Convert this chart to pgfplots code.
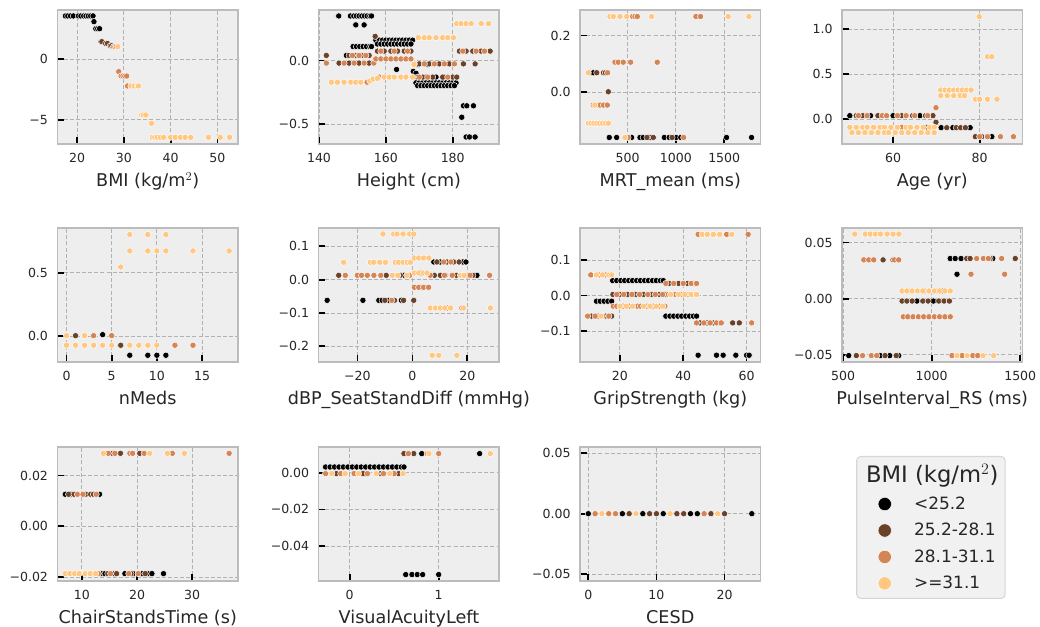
\documentclass[border=0pt]{standalone}
\usepackage{pgfplots}
\pgfplotsset{compat=1.18}
\usepackage{fontspec}
\setmainfont{DejaVu Sans}

\definecolor{bgc}{HTML}{EEEEEE}
\definecolor{edgec}{HTML}{BCBCBC}
\definecolor{gridc}{HTML}{B2B2B2}
\definecolor{tickc}{HTML}{262626}
\definecolor{legfill}{HTML}{F1F1F1}
\definecolor{legedge}{HTML}{D6D6D6}
% copper palette, four BMI classes
\definecolor{c0}{HTML}{000000}
\definecolor{c1}{HTML}{6A422A}
\definecolor{c2}{HTML}{D48555}
\definecolor{c3}{HTML}{FFC77F}

\pgfplotsset{
  panel/.style={
    scale only axis, width=135.4pt, height=100.5pt, anchor=north west,
    axis background/.style={fill=bgc},
    axis line style={draw=edgec, line width=1.1pt},
    grid=major,
    major grid style={draw=gridc, line width=0.7pt, dash pattern=on 3pt off 1.6pt},
    tick align=inside, xtick pos=bottom, ytick pos=left,
    major tick length=5pt,
    every tick/.style={black, line width=1.3pt},
    scaled x ticks=false, scaled y ticks=false,
    tick label style={font=\fontsize{9.4}{11}\selectfont, text=tickc},
    xticklabel style={anchor=base, yshift=-14pt},
    yticklabel style={anchor=east, xshift=-3.6pt},
    every axis x label/.style={at={(axis description cs:0.5,0)}, anchor=base, yshift=-32pt,
      font=\fontsize{13.2}{15}\selectfont, text=tickc},
    /pgf/number format/assume math mode=true,
  },
  dot/.style={only marks, mark=*, mark size=2.35pt,
    mark options={draw=white, line width=0.35pt, fill=#1}},
}

\begin{document}
\begin{tikzpicture}
\path[use as bounding box] (0,0) rectangle (780pt,470.25pt);

% ---------------- BMI ----------------
\begin{axis}[panel, at={(43.1pt,462.75pt)},
  xmin=15.8, xmax=54.4, ymin=-6.98, ymax=4.06,
  xtick={20,30,40,50}, xticklabels={20,30,40,50},
  ytick={-5,0}, yticklabels={−5,0},
  xlabel={BMI (kg/m$^{2}$)}]
\addplot[dot=c0] coordinates {(17.5,3.57) (18.0,3.57) (18.6,3.57) (19.2,3.57) (20.3,3.57) (20.8,3.57) (21.4,3.57) (21.9,3.57) (22.4,3.57) (22.9,3.57) (23.4,3.57) (23.6,3.1) (24.0,2.52) (24.4,2.52) (24.8,2.52)};
\addplot[dot=c1] coordinates {(25.1,1.45) (25.3,1.45) (26.1,1.30) (26.5,1.30) (27.1,1.12) (27.4,1.12)};
\addplot[dot=c2] coordinates {(27.8,1.04) (28.1,1.04) (28.4,1.04) (28.9,-1.02) (29.4,-1.38) (29.8,-1.38) (30.2,-1.38) (30.6,-1.38) (30.8,-2.2)};
\addplot[dot=c3] coordinates {(28.7,1.04) (31.5,-2.2) (32.2,-2.2) (32.9,-2.2) (33.1,-2.2) (33.8,-4.59) (34.2,-4.59) (34.7,-4.59) (35.9,-5.28) (36.1,-6.43) (36.6,-6.43) (37.1,-6.43) (37.8,-6.43) (38.5,-6.43) (40.0,-6.43) (41.0,-6.43) (42.1,-6.43) (43.1,-6.43) (44.3,-6.43) (48.1,-6.43) (50.6,-6.43) (52.6,-6.43)};
\end{axis}

% ---------------- Height ----------------
\begin{axis}[panel, at={(239.0pt,462.75pt)},
  xmin=139.9, xmax=193.9, ymin=-0.655, ymax=0.397,
  xtick={140,160,180}, xticklabels={140,160,180},
  ytick={-0.5,0}, yticklabels={−0.5,0.0},
  xlabel={Height (cm)}]
\addplot[dot=c0] coordinates {(145.9,0.35) (149.4,0.35) (150.4,0.35) (151.2,0.35) (152.0,0.35) (152.8,0.35) (153.6,0.35) (154.4,0.35) (155.2,0.35) (155.7,0.35)
 (151.0,0.28) (153.5,0.28)
 (150.2,0.11) (151.2,0.11) (152.2,0.11) (153.2,0.11) (154.2,0.11) (155.2,0.11) (155.7,0.11) (148.2,0.04)
 (157.0,0.16) (158.0,0.16) (159.0,0.16) (160.0,0.16) (161.0,0.16) (162.0,0.16) (163.0,0.16) (164.0,0.16) (165.0,0.16) (166.0,0.16) (167.0,0.16) (168.0,0.16)
 (157.5,0.13) (158.5,0.13) (159.5,0.13) (160.5,0.13) (161.5,0.13) (162.5,0.13) (163.5,0.13) (164.5,0.13) (165.5,0.13) (166.5,0.13) (167.5,0.13)
 (163.2,-0.07) (168.2,-0.085) (169.0,-0.1) (169.5,-0.03) (172.5,-0.03)
 (169.5,-0.13) (172.0,-0.13) (175.0,-0.13) (177.5,-0.13)
 (169,-0.175) (170,-0.175) (171,-0.175) (172,-0.175) (173,-0.175) (174,-0.175) (175,-0.175) (176,-0.175) (177,-0.175) (178,-0.175) (179,-0.175) (180,-0.175) (181,-0.175)
 (169.5,-0.197) (170.5,-0.197) (171.5,-0.197) (172.5,-0.197) (173.5,-0.197) (174.5,-0.197) (175.5,-0.197) (176.5,-0.197) (177.5,-0.197) (178.5,-0.197) (179.5,-0.197) (180.5,-0.197)
 (183.2,-0.355) (184.2,-0.355) (186.2,-0.355) (182.7,-0.445) (184.0,-0.60) (185.0,-0.60) (186.7,-0.60)};
\addplot[dot=c1] coordinates {(142.2,0.04) (149,0.04) (151,0.04) (153,0.04) (155,0.04) (156.8,0.19)
 (146,-0.02) (149,-0.02) (152,-0.02) (155,-0.02)
 (157.5,0.074) (159.5,0.074) (161.5,0.074) (163.5,0.074) (165.5,0.074) (167.5,0.074)
 (170,-0.026) (173,-0.026) (176,-0.026) (179,-0.026) (183.2,-0.026) (186.7,-0.026)
 (171,-0.13) (174,-0.13) (177,-0.13) (180,-0.13) (181.2,-0.13)
 (182,0.074) (184,0.074) (186,0.074) (188.5,0.074) (191.2,0.074)};
\addplot[dot=c2] coordinates {(142.2,-0.02) (147.5,-0.02) (150.5,-0.02) (153.5,-0.02) (156.4,-0.02)
 (150,0.04) (152,0.04) (154,0.04)
 (157,0.013) (158.5,0.013) (160,0.013) (161.5,0.013) (163,0.013) (164.5,0.013) (166,0.013) (167.5,0.013)
 (158.5,0.074) (162.5,0.074) (166.5,0.074)
 (168.5,-0.026) (171.5,-0.026) (174.5,-0.026) (177.5,-0.026) (180.5,-0.026)
 (170,-0.13) (172.5,-0.13) (178.5,-0.13) (154.4,-0.17) (158,-0.13) (161,-0.13)
 (183,0.074) (187,0.074) (189.5,0.074)};
\addplot[dot=c3] coordinates {(181.2,0.29) (182.5,0.29) (184,0.29) (185.5,0.29) (188.5,0.29) (190.7,0.29)
 (169.7,0.18) (171.5,0.18) (173,0.18) (175,0.18) (177,0.18) (178.5,0.18) (180.2,0.18)
 (143.7,-0.17) (145.5,-0.17) (147.5,-0.17) (149.5,-0.17) (151,-0.17) (152.5,-0.17) (155.2,-0.16)
 (156.2,-0.145) (157.5,-0.14) (159.5,-0.13) (161,-0.13) (162.5,-0.13) (164.5,-0.13) (166,-0.13) (168,-0.13) (168.4,-0.03)};
\end{axis}

% ---------------- MRT_mean ----------------
\begin{axis}[panel, at={(435pt,462.75pt)},
  xmin=7, xmax=1876, ymin=-0.182, ymax=0.29,
  xtick={500,1000,1500}, xticklabels={500,1000,1500},
  ytick={0,0.2}, yticklabels={0.0,0.2},
  xlabel={MRT\_mean (ms)}]
\addplot[dot=c0] coordinates {(110,0.069) (145,0.069) (310,-0.159) (386,-0.159) (541,-0.159) (628,-0.159) (662,-0.159) (730,-0.159) (880,-0.159) (930,-0.159) (1000,-0.159) (1050,-0.159) (1524,-0.159) (1783,-0.159)};
\addplot[dot=c1] coordinates {(180,0.069) (250,0.069) (270,0.069) (300,0.002) (700,-0.159) (766,-0.159) (960,-0.159)};
\addplot[dot=c2] coordinates {(292,0.069) (369,0.106) (403,0.106) (455,0.106) (531,0.106) (807,0.106) (145,-0.045) (180,-0.045) (215,-0.045) (250,-0.045) (290,-0.045) (552,0.267) (576,0.267) (600,0.267) (1207,0.267) (1255,0.267) (505,-0.159) (1080,-0.159)};
\addplot[dot=c3] coordinates {(317,0.267) (352,0.267) (421,0.267) (490,0.267) (748,0.267) (1541,0.267) (1755,0.267) (93,0.069) (160,-0.045) (93,-0.109) (120,-0.109) (150,-0.109) (180,-0.109) (210,-0.109) (240,-0.109) (270,-0.109) (300,-0.109) (472,-0.159)};
\end{axis}

% ---------------- Age ----------------
\begin{axis}[panel, at={(631.5pt,462.75pt)},
  xmin=48.2, xmax=89.9, ymin=-0.279, ymax=1.216,
  xtick={60,80}, xticklabels={60,80},
  ytick={0,0.5,1}, yticklabels={0.0,0.5,1.0},
  xlabel={Age (yr)}]
\addplot[dot=c0] coordinates {(50,0.037) (54.8,0.037) (60,0.037) (66.2,0.037) (71.1,-0.097) (73.8,-0.097) (77.8,-0.097) (82.8,-0.197)};
\addplot[dot=c1] coordinates {(51.5,0.037) (53,0.037) (56.5,0.037) (62,0.037) (64.5,0.037) (67.5,0.037) (69.2,0.037) (69.9,-0.037) (72.4,-0.097) (74.6,-0.097) (75.6,-0.097) (76.7,-0.097) (79,-0.197) (80.5,-0.197) (67.8,-0.093)};
\addplot[dot=c2] coordinates {(52,0.037) (54,0.037) (57.5,0.037) (58.5,0.037) (61,0.037) (63,0.037) (65,0.037) (68,0.037) (69.9,0.126) (80,-0.197) (81.8,-0.197) (84.8,-0.197) (87.8,-0.197) (62,-0.093)};
\addplot[dot=c3] coordinates {(50,-0.093) (51.5,-0.093) (53,-0.093) (54,-0.093) (55.5,-0.093) (57,-0.093) (58,-0.093) (59.5,-0.093) (61,-0.093) (63,-0.093) (64,-0.093) (65.5,-0.093) (67,-0.093) (68.5,-0.093) (69.5,-0.093)
 (50.5,-0.152) (52,-0.152) (53.5,-0.152) (55,-0.152) (56.5,-0.152) (58,-0.152) (59,-0.152) (60.5,-0.152) (62,-0.152) (63.5,-0.152) (65,-0.152) (66.5,-0.152) (68,-0.152) (69.5,-0.152)
 (71,0.323) (72,0.323) (73,0.323) (74,0.323) (75,0.323) (76,0.323) (77,0.323) (78,0.323)
 (71,0.26) (72.5,0.26) (74,0.26) (75.5,0.26) (76.5,0.26)
 (79,0.22) (80,0.22) (81.8,0.22) (84,0.22) (81.8,0.695) (82.8,0.695) (79.9,1.141)};
\end{axis}

% ---------------- nMeds ----------------
\begin{axis}[panel, at={(43.1pt,299.25pt)},
  xmin=-1.0, xmax=18.98, ymin=-0.203, ymax=0.855,
  xtick={0,5,10,15}, xticklabels={0,5,10,15},
  ytick={0,0.5}, yticklabels={0.0,0.5},
  xlabel={nMeds}]
\addplot[dot=c0] coordinates {(4,0.013) (7,-0.15) (9,-0.15) (10,-0.15) (11,-0.15)};
\addplot[dot=c1] coordinates {(1,0.005) (6,-0.071)};
\addplot[dot=c2] coordinates {(3,0.005) (5,0.005) (12,-0.071) (14,-0.071)};
\addplot[dot=c3] coordinates {(0,0.005) (2,0.005) (0,-0.071) (1,-0.071) (2,-0.071) (3,-0.071) (4,-0.071) (5,-0.071) (7,-0.071) (8,-0.071) (9,-0.071) (10,-0.071) (7,0.803) (9,0.803) (11,0.803) (7,0.674) (9,0.674) (10,0.674) (11,0.674) (14,0.674) (18,0.674) (6,0.547)};
\end{axis}

% ---------------- dBP_SeatStandDiff ----------------
\begin{axis}[panel, at={(239.0pt,299.25pt)},
  xmin=-34.1, xmax=31.6, ymin=-0.247, ymax=0.155,
  xtick={-20,0,20}, xticklabels={−20,0,20},
  ytick={-0.2,-0.1,0,0.1}, yticklabels={−0.2,−0.1,0.0,0.1},
  xlabel={dBP\_SeatStandDiff (mmHg)}]
\addplot[dot=c0] coordinates {(-31,-0.062) (-18,-0.062) (-12.2,-0.062) (-11,-0.062) (-8.5,-0.062) (-4,-0.062) (7.8,0.053) (10.2,0.053) (18.4,0.053) (19.5,0.053) (-3,0.013) (3,0.02) (23.5,0.013)};
\addplot[dot=c1] coordinates {(-26.8,0.013) (-9.5,0.013) (-4.4,0.013) (8,0.013) (10.2,0.013) (12,0.013) (16,0.013) (22,0.013) (8.9,0.053) (12.6,0.053) (15,0.053) (17,0.053) (-10,-0.062) (-6.5,-0.062) (-3.2,-0.062) (0.5,-0.062) (3.5,-0.023)};
\addplot[dot=c2] coordinates {(-24.4,0.013) (-20,0.013) (-18.5,0.013) (-16.4,0.013) (-14,0.013) (-11.5,0.013) (-1,0.013) (6.5,0.013) (11.7,0.013) (14.5,0.013) (19.5,0.013) (21,0.013) (28.1,0.013) (11.4,0.053) (14,0.053) (0.7,-0.023) (2.3,-0.023) (4.1,-0.023) (5.9,-0.023) (-7.5,-0.062) (12.7,-0.085) (18,-0.085)};
\addplot[dot=c3] coordinates {(-10.7,0.137) (-6.8,0.137) (-5.6,0.137) (-3.4,0.137) (-1,0.137) (0.5,0.137) (-25,0.052) (-15.3,0.052) (-14.1,0.052) (-11.9,0.052) (-9.8,0.052) (-6.2,0.052) (-5,0.052) (-3.4,0.052) (-1.9,0.052) (-0.7,0.052) (0.7,0.065) (2.3,0.065) (4.1,0.065) (6,0.065) (-7.3,0.013) (-5.3,0.013) (-2,0.013) (0.7,0.02) (2.3,0.02) (4.1,0.02) (5.3,0.02) (17.5,0.013) (18.8,0.013) (6.5,-0.085) (8.4,-0.085) (10.2,-0.085) (11.8,-0.085) (13.9,-0.085) (18.6,-0.085) (28.4,-0.085) (7.2,-0.227) (9.6,-0.227) (16.2,-0.227)};
\end{axis}

% ---------------- GripStrength ----------------
\begin{axis}[panel, at={(435pt,299.25pt)},
  xmin=7.4, xmax=64.4, ymin=-0.187, ymax=0.19,
  xtick={20,40,60}, xticklabels={20,40,60},
  ytick={-0.1,0,0.1}, yticklabels={−0.1,0.0,0.1},
  xlabel={GripStrength (kg)}]
\addplot[dot=c0] coordinates {(17.7,0.042) (19,0.042) (20.3,0.042) (21.5,0.042) (22.8,0.042) (24,0.042) (25.3,0.042) (26.5,0.042) (27.8,0.042) (29,0.042) (30.3,0.042) (31.5,0.042) (32.8,0.042) (33.7,0.042)
 (12.6,-0.016) (13.8,-0.016) (15,-0.016) (16.2,-0.016) (17.4,-0.016)
 (34.5,-0.058) (35.8,-0.058) (37,-0.058) (38.3,-0.058) (39.5,-0.058) (40.8,-0.058) (42,-0.058) (43.2,-0.058) (44.2,-0.058)
 (44.7,-0.168) (50.5,-0.168) (52.6,-0.168) (56.6,-0.168) (60,-0.168) (60.8,-0.168)};
\addplot[dot=c1] coordinates {(35.5,0.034) (38.5,0.034) (41.3,0.034) (43.3,0.034)
 (17.8,0.003) (20,0.003) (22.5,0.003) (25,0.003) (27.5,0.003) (30,0.003) (32.5,0.003) (34.5,0.003)
 (11,-0.058) (13.2,-0.058) (15.5,-0.058) (17.4,-0.058)
 (45.3,-0.077) (47.5,-0.077) (49.5,-0.077) (51.5,-0.077) (55.6,-0.077) (57.7,-0.077)};
\addplot[dot=c2] coordinates {(44.7,0.172) (53.7,0.172) (60.5,0.172) (10.8,0.058) (13.5,0.058) (15.5,0.058)
 (34.5,0.034) (37,0.034) (40,0.034) (42.5,0.034) (44.2,0.034)
 (19,0.003) (21.2,0.003) (23.8,0.003) (26.2,0.003) (28.8,0.003) (31.2,0.003) (33.5,0.003)
 (35.3,0.003) (37.5,0.003) (39.5,0.003) (41.5,0.003) (43.5,0.003)
 (17.9,-0.03) (19,-0.03) (21,-0.03) (23,-0.03) (25.5,-0.03) (26.5,-0.03) (28.5,-0.03) (30.5,-0.03) (32.5,-0.03) (34.2,-0.03)
 (9.8,-0.058) (12.2,-0.058) (14.5,-0.058) (16.5,-0.058)
 (44.2,-0.077) (46.5,-0.077) (48.5,-0.077) (50.5,-0.077) (52,-0.077) (61.6,-0.077)};
\addplot[dot=c3] coordinates {(46,0.172) (47.6,0.172) (49.5,0.172) (51.5,0.172) (55.3,0.172)
 (12.6,0.058) (14.5,0.058) (16.5,0.058) (17.4,0.058)
 (36,0.003) (38.5,0.003) (40.5,0.003) (42.5,0.003) (44.2,0.003)
 (20,-0.03) (22,-0.03) (24,-0.03) (27.5,-0.03) (29.5,-0.03) (31.5,-0.03) (33.5,-0.03) (14,-0.058)};
\end{axis}

% ---------------- PulseInterval_RS ----------------
\begin{axis}[panel, at={(631.5pt,299.25pt)},
  xmin=494, xmax=1513, ymin=-0.0564, ymax=0.063,
  xtick={500,1000,1500}, xticklabels={500,1000,1500},
  ytick={-0.05,0,0.05}, yticklabels={−0.05,0.00,0.05},
  xlabel={PulseInterval\_RS (ms)}]
\addplot[dot=c0] coordinates {(1105,0.0358) (1133,0.0358) (1166,0.0358) (1345,0.0358) (1143,0.0218) (917,-0.0021) (1010,-0.0021) (532,-0.0507) (710,-0.0507) (763,-0.0507) (814,-0.0507)};
\addplot[dot=c1] coordinates {(726,0.0346) (782,0.0346) (1198,0.0358) (1217,0.0358) (1330,0.0358) (1472,0.0358) (1060,0.0069)
 (833,-0.0021) (860,-0.0021) (890,-0.0021) (950,-0.0021) (980,-0.0021) (1040,-0.0021) (1070,-0.0021) (1100,-0.0021)
 (870,-0.0161) (575,-0.0507) (737,-0.0507) (800,-0.0507) (1240,-0.0507)};
\addplot[dot=c2] coordinates {(617,0.0346) (645,0.0346) (673,0.0346) (790,0.0346) (814,0.0346) (1254,0.0358) (1292,0.0358) (1320,0.0358) (1395,0.0358) (1222,0.0218) (1412,0.0218)
 (870,0.0069) (960,0.0069) (1030,0.0069)
 (840,-0.0161) (865,-0.0161) (895,-0.0161) (925,-0.0161) (955,-0.0161) (985,-0.0161) (1015,-0.0161) (1045,-0.0161) (1075,-0.0161) (1105,-0.0161)
 (610,-0.0507) (660,-0.0507) (690,-0.0507) (1115,-0.0507) (1172,-0.0507) (1232,-0.0507) (1260,-0.0507)};
\addplot[dot=c3] coordinates {(566,0.0576) (626,0.0576) (654,0.0576) (683,0.0576) (711,0.0576) (749,0.0576) (783,0.0576) (815,0.0576)
 (833,0.0069) (860,0.0069) (890,0.0069) (920,0.0069) (950,0.0069) (985,0.0069) (1015,0.0069) (1045,0.0069) (1075,0.0069) (1105,0.0069)
 (1143,-0.0507) (1200,-0.0507) (1290,-0.0507) (1350,-0.0507)};
\end{axis}

% ---------------- ChairStandsTime ----------------
\begin{axis}[panel, at={(43.1pt,135pt)},
  xmin=5.58, xmax=38.3, ymin=-0.0215, ymax=0.0312,
  xtick={10,20,30}, xticklabels={10,20,30},
  ytick={-0.02,0,0.02}, yticklabels={−0.02,0.00,0.02},
  xlabel={ChairStandsTime (s)}]
\addplot[dot=c0] coordinates {(7,0.0126) (8,0.0126) (13.2,0.0126) (13.6,-0.0186) (14.2,-0.0186) (15.9,-0.0186) (17.8,-0.0186) (19.3,-0.0186) (20.9,-0.0186) (22,-0.0186) (22.7,-0.0186) (24.8,-0.0186)};
\addplot[dot=c1] coordinates {(15.5,0.0287) (17,0.0287) (20.5,0.0287) (7.6,0.0126) (8.6,0.0126) (10.7,0.0126) (11.6,0.0126) (12.1,0.0126) (14.7,-0.0186) (16.3,-0.0186) (18.9,-0.0186) (21.5,-0.0186)};
\addplot[dot=c2] coordinates {(14.8,0.0287) (16,0.0287) (18.7,0.0287) (19.2,0.0287) (21.3,0.0287) (26.4,0.0287) (36.7,0.0287) (9.2,0.0126) (10.2,0.0126) (12.6,0.0126) (11.9,-0.0186) (13,-0.0186) (15.2,-0.0186) (18.5,-0.0186) (20.2,-0.0186)};
\addplot[dot=c3] coordinates {(13.9,0.0287) (22.3,0.0287) (25.5,0.0287) (28.6,0.0287) (7,-0.0186) (7.8,-0.0186) (8.7,-0.0186) (9.5,-0.0186) (10.6,-0.0186) (11.5,-0.0186) (12.5,-0.0186)};
\end{axis}

% ---------------- VisualAcuityLeft ----------------
\begin{axis}[panel, at={(239.0pt,135pt)},
  xmin=-0.348, xmax=1.68, ymin=-0.059, ymax=0.014,
  xtick={0,1}, xticklabels={0,1},
  ytick={-0.04,-0.02,0}, yticklabels={−0.04,−0.02,0.00},
  xlabel={VisualAcuityLeft}]
\addplot[dot=c0] coordinates {(-0.27,0.0031) (-0.22,0.0031) (-0.17,0.0031) (-0.12,0.0031) (-0.07,0.0031) (-0.02,0.0031) (0.03,0.0031) (0.08,0.0031) (0.13,0.0031) (0.18,0.0031) (0.23,0.0031) (0.28,0.0031) (0.33,0.0031) (0.38,0.0031) (0.43,0.0031) (0.48,0.0031) (0.53,0.0031) (0.58,0.0031) (0.61,0.0031)
 (0.18,-0.0005) (0.81,0.0104) (1.46,0.0104) (0.63,-0.0555) (0.7,-0.0555) (0.76,-0.0555) (0.82,-0.0555) (1.0,-0.0555)};
\addplot[dot=c1] coordinates {(0.61,0.0104) (0.72,0.0104) (-0.15,-0.0005) (0.15,-0.0005) (0.35,-0.0005) (0.55,-0.0005)};
\addplot[dot=c2] coordinates {(0.66,0.0104) (0.87,0.0104) (1.0,0.0104) (-0.27,-0.0005) (-0.1,-0.0005) (0.05,-0.0005) (0.2,-0.0005) (0.38,-0.0005) (0.5,-0.0005)};
\addplot[dot=c3] coordinates {(0.89,0.0104) (1.58,0.0104) (-0.2,-0.0005) (-0.05,-0.0005) (0.1,-0.0005) (0.3,-0.0005) (0.45,-0.0005) (0.6,-0.0005)};
\end{axis}

% ---------------- CESD ----------------
\begin{axis}[panel, at={(435pt,135pt)},
  xmin=-1.22, xmax=25.28, ymin=-0.0555, ymax=0.055,
  xtick={0,10,20}, xticklabels={0,10,20},
  ytick={-0.05,0,0.05}, yticklabels={−0.05,0.00,0.05},
  xlabel={CESD},
  legend cell align=left,
  legend image code/.code={\path[draw=none, fill=none] (-18pt,0pt) -- (5pt,0pt); \draw[#1] plot coordinates {(0pt,0pt)};},
  legend image post style={mark size=5pt},
  legend style={at={(rel axis cs:1.530,0.933)}, anchor=north west,
    draw=legedge, fill=legfill, rounded corners=3pt, line width=0.8pt,
    font=\fontsize{12.7}{15}\selectfont, text=tickc,
    inner xsep=3pt, inner ysep=3.8pt, row sep=4.9pt,
    /tikz/every odd column/.append style={column sep=15pt}}]
\addlegendimage{empty legend}
\addlegendentry{\hspace*{-36pt}{\fontsize{17}{20}\selectfont BMI (kg/m$^{2}$)}\rule[-7.5pt]{0pt}{0pt}}
\addplot[dot=c0] coordinates {(0,0) (5,0) (8,0) (11,0) (15,0) (16,0) (24,0)};
\addlegendentry{<25.2}
\addplot[dot=c1] coordinates {(6,0) (9,0) (10,0) (13,0) (14,0) (18,0) (20,0)};
\addlegendentry{25.2-28.1}
\addplot[dot=c2] coordinates {(1,0) (3,0) (4,0) (17,0)};
\addlegendentry{28.1-31.1}
\addplot[dot=c3] coordinates {(2,0) (7,0) (12,0) (19,0)};
\addlegendentry{>=31.1}
\end{axis}

\end{tikzpicture}
\end{document}
